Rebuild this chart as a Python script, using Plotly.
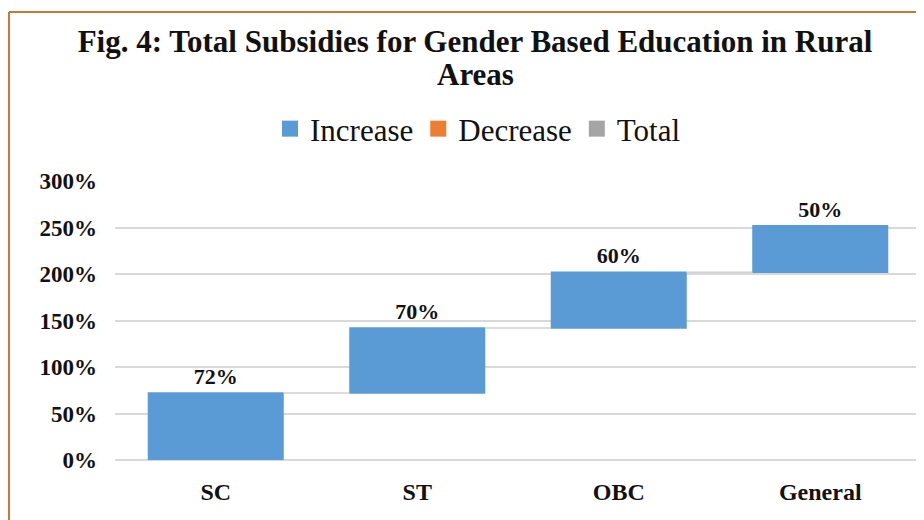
import plotly.graph_objects as go

categories = ["SC", "ST", "OBC", "General"]
increases = [72, 70, 60, 50]
legend_names = ["Increase", "Decrease", "Total"]
legend_colors = ["#5B9BD5", "#ED7D31", "#A5A5A5"]
y_ticks = [0, 50, 100, 150, 200, 250, 300]
title_line1 = "Fig. 4: Total Subsidies for Gender Based Education in Rural"
title_line2 = "Areas"

serif = "Liberation Serif, Times New Roman, serif"

# figure is offset by the 8px page margin
W, H = 916, 512
L, R, T, B = 107, 3, 173, 60
PW, PH = W - L - R, H - T - B

fig = go.Figure()
fig.add_trace(go.Waterfall(
    x=categories,
    y=increases,
    measure=["relative"] * len(increases),
    text=[f"<b>{v}%</b>" for v in increases],
    textposition="outside",
    textfont=dict(family=serif, size=22, color="#111111"),
    increasing=dict(marker=dict(color=legend_colors[0])),
    decreasing=dict(marker=dict(color=legend_colors[1])),
    totals=dict(marker=dict(color=legend_colors[2])),
    connector=dict(line=dict(color="#D0D0D0", width=1.5)),
    showlegend=False,
    hoverinfo="skip",
    cliponaxis=False,
))

for name, col in zip(legend_names, legend_colors):
    fig.add_trace(go.Scatter(
        x=[None], y=[None], mode="markers", name=name,
        marker=dict(symbol="square", size=18, color=col),
    ))

fig.update_layout(
    width=W, height=H,
    margin=dict(l=L, r=R, t=T, b=B),
    paper_bgcolor="white", plot_bgcolor="white",
    waterfallgap=0.325,
    title=dict(
        text=f"<b>{title_line1}</b>",
        x=467 / W, xref="container", xanchor="center",
        y=1 - 33 / H, yref="container", yanchor="middle",
        font=dict(family=serif, size=31, color="#111111"),
    ),
    annotations=[dict(
        text=f"<b>{title_line2}</b>", showarrow=False,
        xref="paper", yref="paper",
        x=(467 - L) / PW, y=(H - B - 66) / PH,
        xanchor="center", yanchor="middle",
        font=dict(family=serif, size=31, color="#111111"),
    )],
    legend=dict(
        orientation="h", x=(470 - L) / PW, xanchor="center",
        y=(H - B - 121) / PH, yanchor="middle",
        font=dict(family=serif, size=31, color="#111111"),
        itemwidth=30, bgcolor="rgba(0,0,0,0)",
    ),
    xaxis=dict(
        showgrid=False, showline=False, zeroline=False,
        tickfont=dict(family=serif, size=24, color="#111111"),
        tickprefix="<b>", ticksuffix="</b>",
        ticklabelstandoff=15,
    ),
    yaxis=dict(
        range=[0, 300], tickvals=y_ticks,
        ticktext=[f"<b>{t}%</b>" for t in y_ticks],
        showgrid=True, gridcolor="#D9D9D9", gridwidth=1.5,
        zeroline=True, zerolinecolor="#D9D9D9", zerolinewidth=1.5,
        tickfont=dict(family=serif, size=23, color="#111111"),
        ticklabelstandoff=17,
    ),
    shapes=[
        dict(type="line", xref="paper", yref="paper",
             x0=(1 - L) / PW, x1=(W - L) / PW,
             y0=(H - B - 4) / PH, y1=(H - B - 4) / PH,
             line=dict(color="#C8773A", width=2)),
        dict(type="line", xref="paper", yref="paper",
             x0=(1 - L) / PW, x1=(1 - L) / PW,
             y0=(H - B - 4) / PH, y1=(H - B - H - 5) / PH,
             line=dict(color="#C8773A", width=2)),
    ],
)

fig.write_html("out.html")
